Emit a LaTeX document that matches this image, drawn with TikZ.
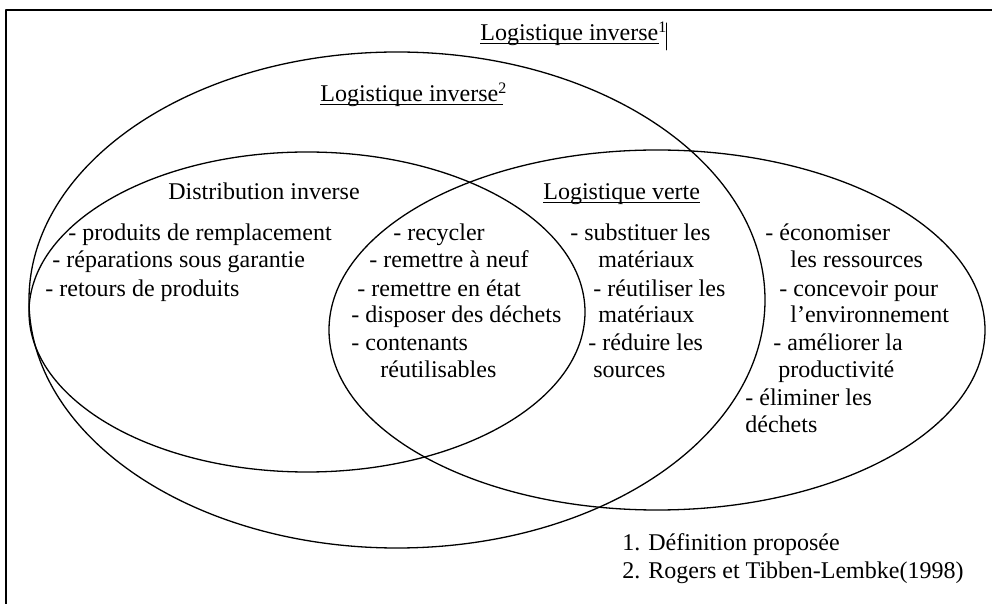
\documentclass[tikz,border=0pt]{standalone}
\usepackage{fontspec}
\setmainfont{Liberation Serif}
\begin{document}
\begin{tikzpicture}[x=0.5pt, y=-0.5pt, font=\fontsize{12}{14}\selectfont, line join=round, line cap=round,
	lbl/.style={anchor=base west, inner sep=0pt},
	ring/.style={line width=0.65pt},
	uline/.style={line width=0.5pt, line cap=butt}]
		\useasboundingbox (0,0) rectangle (992,604);
		\draw[line width=0.6pt] (6,604)--(6,10)--(992,10);
		% the three sets
		\draw[ring] (397,300) ellipse [x radius=368, y radius=248];
		\draw[ring] (307,312) ellipse [x radius=278, y radius=160];
		\draw[ring] (657,330) ellipse [x radius=328, y radius=180];
		% titles
		\node[lbl] (inv1) at (480,41) {Logistique inverse\rlap{\textsuperscript{1}}};
		\draw[uline] ([yshift=-1.1pt]inv1.base west)--([yshift=-1.1pt]inv1.base east);
		\draw[line width=0.5pt] ([xshift=4pt]inv1.east|-0,23)--([xshift=4pt]inv1.east|-0,50);
		\node[lbl] (inv2) at (320,102) {Logistique inverse\rlap{\textsuperscript{2}}};
		\draw[uline] ([yshift=-1.1pt]inv2.base west)--([xshift=2pt,yshift=-1.1pt]inv2.base east);
		\node[lbl] (dist) at (168,200) {Distribution inverse};
		\node[lbl] (verte) at (543,200) {Logistique verte};
		\draw[uline] ([yshift=-1.1pt]verte.base west)--([yshift=-1.1pt]verte.base east);
		% distribution inverse
		\node[lbl] (d1) at (68,241) {- produits de remplacement};
		\node[lbl] (d2) at (52,268) {- réparations sous garantie};
		\node[lbl] (d3) at (45,297) {- retours de produits};
		% common part
		\node[lbl] (c1) at (393,241) {- recycler};
		\node[lbl] (c2) at (369,268) {- remettre à neuf};
		\node[lbl] (c3) at (357,297) {- remettre en état};
		\node[lbl] (c4) at (351,323) {- disposer des déchets};
		\node[lbl] (c5) at (351,351) {- contenants};
		\node[lbl] (c6) at (380,378) {réutilisables};
		% logistique verte
		\node[lbl] (v1) at (570,241) {- substituer les};
		\node[lbl] (v2) at (598,268) {matériaux};
		\node[lbl] (v3) at (593,297) {- réutiliser les};
		\node[lbl] (v4) at (598,323) {matériaux};
		\node[lbl] (v5) at (588,351) {- réduire les};
		\node[lbl] (v6) at (593,378) {sources};
		% outside logistique inverse
		\node[lbl] (r1) at (765,241) {- économiser};
		\node[lbl] (r2) at (790,268) {les ressources};
		\node[lbl] (r3) at (779,297) {- concevoir pour};
		\node[lbl] (r4) at (790,323) {l’environnement};
		\node[lbl] (r5) at (773,351) {- améliorer la};
		\node[lbl] (r6) at (778,378) {productivité};
		\node[lbl] (r7) at (745,406) {- éliminer les};
		\node[lbl] (r8) at (745,433) {déchets};
		% notes
		\node[lbl] (n1) at (622,551) {1. Définition proposée};
		\node[lbl] (n2) at (622,579) {2. Rogers et Tibben-Lembke(1998)};
	\end{tikzpicture}
\end{document}
